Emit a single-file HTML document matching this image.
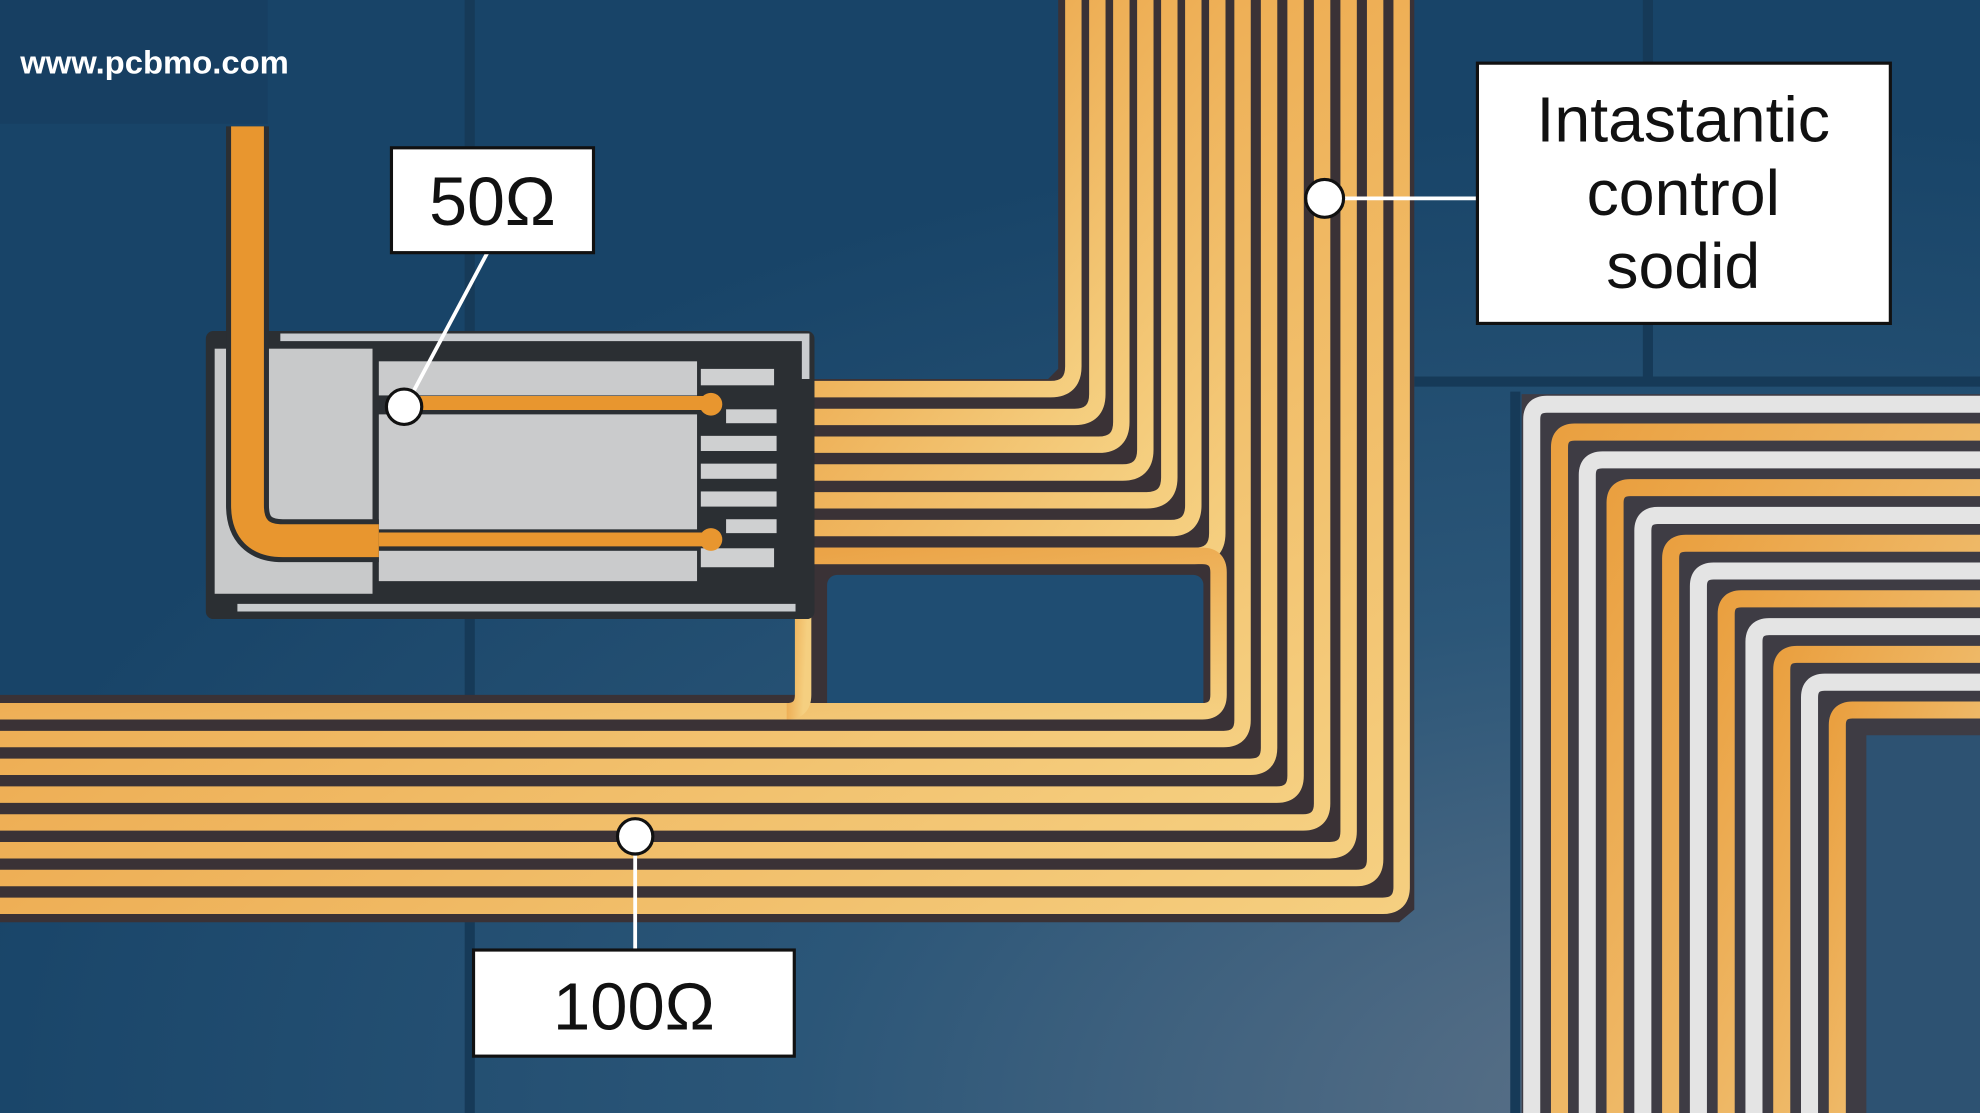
<!DOCTYPE html>
<html><head><meta charset="utf-8"><style>
html,body{margin:0;padding:0;background:#1b466a;}
svg{display:block}
text{font-family:"Liberation Sans",Arial,sans-serif}
</style></head><body>
<svg width="1980" height="1113" viewBox="0 0 1568 881" preserveAspectRatio="none" xmlns="http://www.w3.org/2000/svg">
<defs>
<radialGradient id="bg" cx="0.85" cy="1" r="0.9">
<stop offset="0" stop-color="#5d7288"/><stop offset="0.5" stop-color="#2b5678"/><stop offset="1" stop-color="#184468"/>
</radialGradient>
<linearGradient id="og" x1="0" y1="0" x2="1" y2="1">
<stop offset="0" stop-color="#e68f2c"/><stop offset="1" stop-color="#f5cf80"/>
</linearGradient>
<linearGradient id="og2" x1="0" y1="0" x2="1" y2="1">
<stop offset="0" stop-color="#eaa040"/><stop offset="1" stop-color="#f3d08c"/>
</linearGradient>
</defs>
<rect width="1568" height="881" fill="url(#bg)"/>
<g stroke="#163a58" stroke-width="8" fill="none">
<line x1="372" y1="0" x2="372" y2="881"/>
<line x1="1305" y1="0" x2="1305" y2="300"/>
<line x1="1120" y1="302" x2="1568" y2="302"/>
<line x1="1200" y1="310" x2="1200" y2="881"/>
</g>
<rect x="0" y="0" width="212" height="98" fill="#173f62"/>
<text x="16" y="58" font-size="26" font-weight="bold" fill="#fff">www.pcbmo.com</text>

<path d="M838 0 H1120 V720 L1108 730 H0 V550 H640 V300 H830 L838 292 Z" fill="#3a3236"/>
<rect x="655" y="455" width="298" height="112" rx="8" fill="#1f4d72"/>

<g fill="none" stroke="url(#og)" stroke-width="13" stroke-linejoin="round">
<path d="M850 0 V290 Q850 308 832 308 H612"/>
<path d="M869 0 V312 Q869 330 851 330 H612"/>
<path d="M888 0 V334 Q888 352 870 352 H612"/>
<path d="M907 0 V356 Q907 374 889 374 H612"/>
<path d="M926 0 V378 Q926 396 908 396 H612"/>
<path d="M945 0 V400 Q945 418 927 418 H612"/>
<path d="M964 0 V422 Q964 440 946 440 H612"/>
<path d="M612 440 H952 Q965 440 965 453 V550 Q965 563 952 563 H0"/>
<path d="M636 300 V550 Q636 563 623 563"/>
<path d="M984 0 V570 Q984 585 969 585 H0"/>
<path d="M1005 0 V592 Q1005 607 990 607 H0"/>
<path d="M1026 0 V614 Q1026 629 1011 629 H0"/>
<path d="M1047 0 V636 Q1047 651 1032 651 H0"/>
<path d="M1068 0 V658 Q1068 673 1053 673 H0"/>
<path d="M1089 0 V680 Q1089 695 1074 695 H0"/>
<path d="M1110 0 V702 Q1110 717 1095 717 H0"/>
</g>

<rect x="1205" y="312" width="363" height="569" fill="#3e3c44"/>
<g fill="none" stroke-width="13.5" stroke-linejoin="round">
<path d="M1213 881 V332 Q1213 320 1225 320 H1568" stroke="#e4e4e4"/>
<path d="M1235 881 V354 Q1235 342 1247 342 H1568" stroke="url(#og2)"/>
<path d="M1257 881 V376 Q1257 364 1269 364 H1568" stroke="#e4e4e4"/>
<path d="M1279 881 V398 Q1279 386 1291 386 H1568" stroke="url(#og2)"/>
<path d="M1301 881 V420 Q1301 408 1313 408 H1568" stroke="#e4e4e4"/>
<path d="M1323 881 V442 Q1323 430 1335 430 H1568" stroke="url(#og2)"/>
<path d="M1345 881 V464 Q1345 452 1357 452 H1568" stroke="#e4e4e4"/>
<path d="M1367 881 V486 Q1367 474 1379 474 H1568" stroke="url(#og2)"/>
<path d="M1389 881 V508 Q1389 496 1401 496 H1568" stroke="#e4e4e4"/>
<path d="M1411 881 V530 Q1411 518 1423 518 H1568" stroke="url(#og2)"/>
<path d="M1433 881 V552 Q1433 540 1445 540 H1568" stroke="#e4e4e4"/>
<path d="M1455 881 V574 Q1455 562 1467 562 H1568" stroke="url(#og2)"/>
</g>
<rect x="1478" y="582" width="90" height="299" fill="#2d5272"/>

<rect x="163" y="262" width="482" height="228" rx="6" fill="#2b2f33"/>
<path d="M222 267 H638 V300" fill="none" stroke="#c9cccf" stroke-width="6"/>
<line x1="188" y1="481" x2="630" y2="481" stroke="#c9cccf" stroke-width="6"/>
<rect x="170" y="276" width="125" height="194" fill="#c8c9ca"/>
<rect x="300" y="286" width="252" height="27" fill="#cacbcc"/>
<rect x="300" y="328" width="252" height="91" fill="#cacbcc"/>
<rect x="300" y="436" width="252" height="24" fill="#cacbcc"/>
<g fill="#cfd0d1">
<rect x="555" y="292" width="58" height="13"/>
<rect x="575" y="324" width="40" height="11"/>
<rect x="555" y="345" width="60" height="12"/>
<rect x="555" y="367" width="60" height="12"/>
<rect x="555" y="389" width="60" height="12"/>
<rect x="575" y="411" width="40" height="11"/>
<rect x="555" y="434" width="58" height="15"/>
</g>
<path d="M196 100 V400 Q196 428 224 428 H300" fill="none" stroke="#2b2f33" stroke-width="34"/>
<path d="M196 100 V400 Q196 428 224 428 H300" fill="none" stroke="#e8962f" stroke-width="26"/>
<line x1="300" y1="427" x2="562" y2="427" stroke="#e8962f" stroke-width="11"/>
<line x1="320" y1="319" x2="562" y2="319" stroke="#e8962f" stroke-width="11"/>
<circle cx="563" cy="320" r="9" fill="#e8962f"/>
<circle cx="563" cy="427" r="9" fill="#e8962f"/>

<g stroke="#fff" stroke-width="3">
<line x1="386" y1="200" x2="322" y2="320"/>
<line x1="1049" y1="157" x2="1170" y2="157"/>
<line x1="503" y1="662" x2="503" y2="752"/>
</g>
<g fill="#fff" stroke="#111" stroke-width="2.5">
<circle cx="320" cy="322" r="14"/>
<circle cx="1049" cy="157" r="15"/>
<circle cx="503" cy="662" r="14"/>
<rect x="310" y="117" width="160" height="83"/>
<rect x="1170" y="50" width="327" height="206"/>
<rect x="375" y="752" width="254" height="84"/>
</g>
<g fill="#111" text-anchor="middle">
<text x="390" y="178" font-size="54">50Ω</text>
<text x="1333" y="112" font-size="51">Intastantic</text>
<text x="1333" y="170" font-size="51">control</text>
<text x="1333" y="228" font-size="51">sodid</text>
<text x="502" y="815" font-size="53">100Ω</text>
</g>
</svg>
</body></html>
